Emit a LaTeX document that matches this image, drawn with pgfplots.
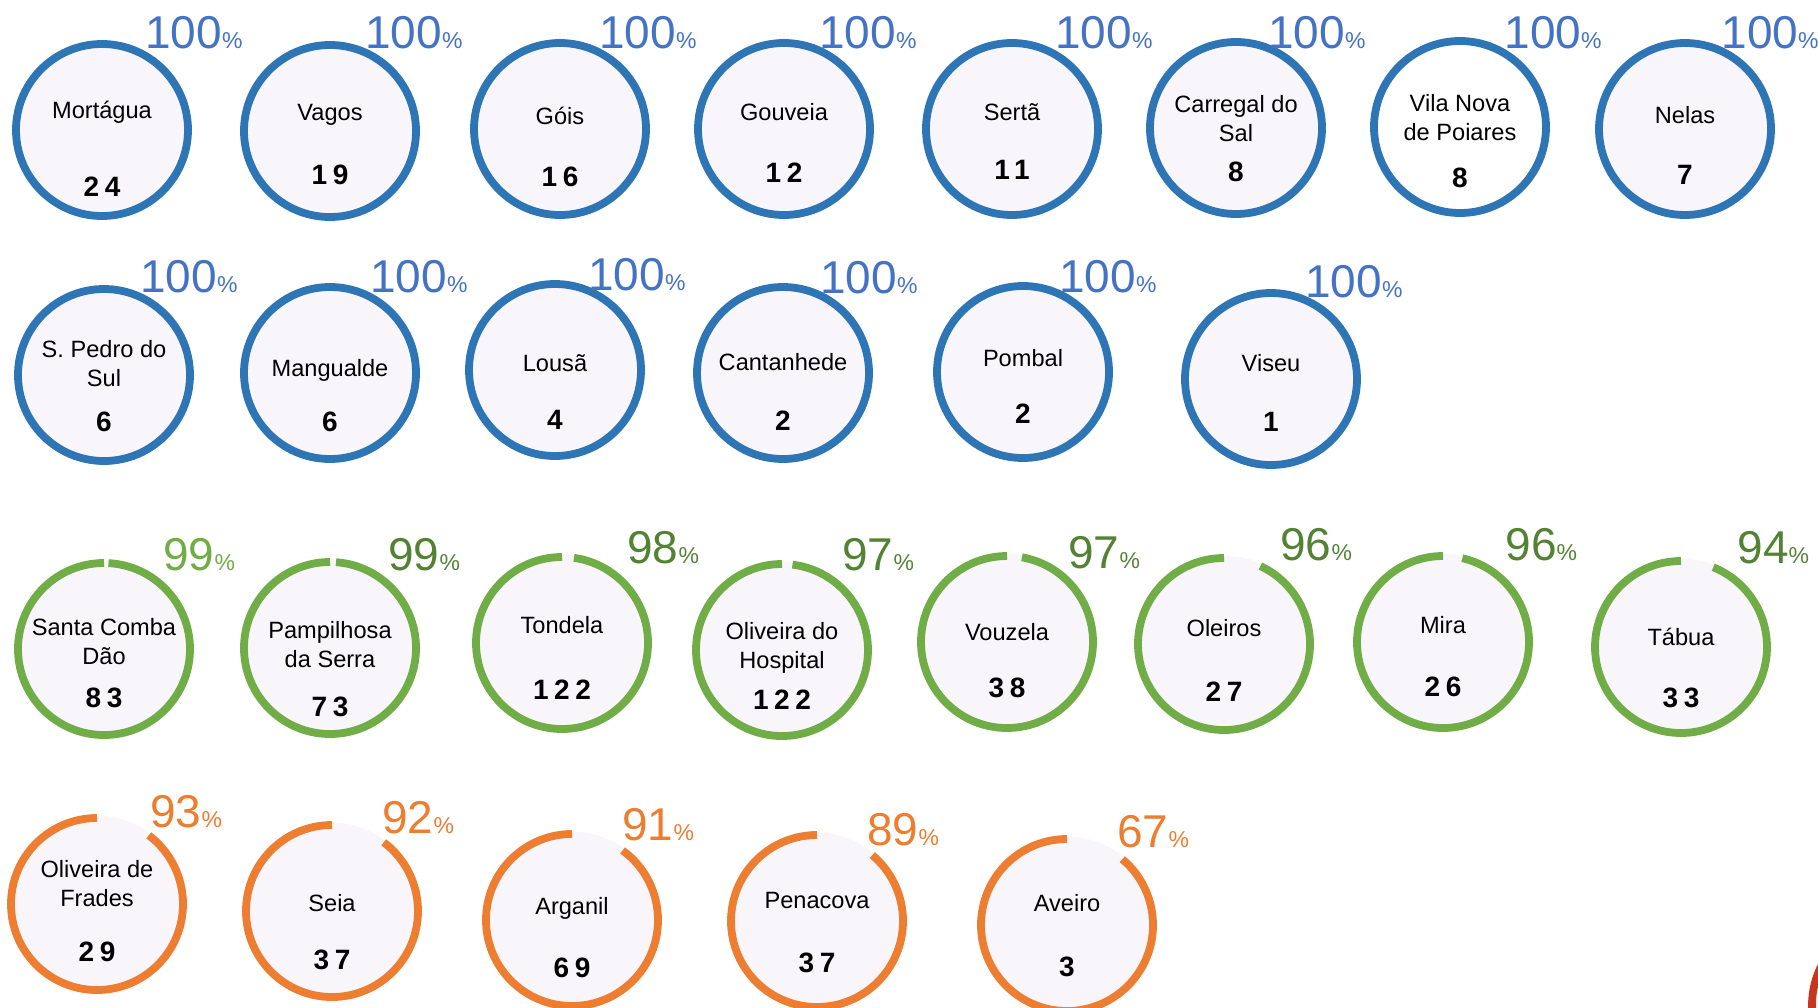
\documentclass[border=0pt]{standalone}
\usepackage{fontspec}
\setmainfont{Liberation Sans}
\newfontfamily\cntfamily[LetterSpace=20]{Liberation Sans}
\usepackage{pgfplots}
\usepackage{pgfplotstable}
\pgfplotsset{compat=1.18}

% ring colours (g), percent text colours (t), fill colours (w)
\definecolor{ring0}{HTML}{2E75B6}
\definecolor{ring1}{HTML}{70AD47}
\definecolor{ring2}{HTML}{ED7D31}
\definecolor{ring3}{HTML}{C9361F}
\definecolor{pct0}{HTML}{4472C4}
\definecolor{pct1}{HTML}{70AD47}
\definecolor{pct2}{HTML}{548235}
\definecolor{pct3}{HTML}{ED7D31}
\definecolor{fill0}{HTML}{F8F6FA}
\definecolor{fill1}{HTML}{FFFFFF}

\newcommand\namefont{\fontsize{11.8}{14.5}\selectfont}
\newcommand\cntfont{\cntfamily\bfseries\fontsize{14}{14}\selectfont}
\newcommand\pctfont{\fontsize{23}{23}\selectfont}
\newcommand\pcsfont{\fontsize{11.5}{11.5}\selectfont}

% positions in pixels of the 1818x1007 picture, y downwards
% gap = open part of the ring at the top, in degrees
% ox = horizontal shift of the ring from its point, in pixels
\pgfplotstableread[col sep=comma]{
X,Y,gap,nm,ny,cnt,ky,pct,px,py,g,t,w,ox
102,130,0,Mortágua,112,24,187,100,145,48,0,0,0,0
330,131,0,Vagos,115,19,175,100,365,48,0,0,0,0
560,129,0,Góis,116,16,177,100,599,48,0,0,0,0
784,129,0,Gouveia,112,12,173,100,819,48,0,0,0,0
1012,129,0,Sertã,112,11,170,100,1055,48,0,0,0,0
1236,128,0,{Carregal do\\Sal},119,8,172,100,1268,48,0,0,0,0
1460,127,0,{Vila Nova\\de Poiares},118,8,178,100,1504,48,0,0,1,0
1685,129,0,Nelas,115,7,175,100,1721,48,0,0,0,0
104,375,0,{S. Pedro do\\Sul},364,6,422,100,140,292,0,0,0,0
330,373,0,Mangualde,370,6,422,100,370,292,0,0,0,0
555,370,0,Lousã,363,4,420,100,588,290,0,0,0,0
783,373,0,Cantanhede,362,2,421,100,820,293,0,0,0,0
1023,372,0,Pombal,358,2,414,100,1059,292,0,0,0,0
1271,379,0,Viseu,363,1,422,100,1305,297,0,0,0,0
104,649,3,{Santa Comba\\Dão},642,83,698,99,163,570,1,1,0,0
330,648,4,{Pampilhosa\\da Serra},645,73,707,99,388,570,1,2,0,0
562,643,8,Tondela,625,122,690,98,627,563,1,2,0,0
782,650,7,{Oliveira do\\Hospital},648,122,700,97,842,570,1,2,0,0
1007,642,10,Vouzela,632,38,688,97,1068,568,1,2,0,0
1224,644,25,Oleiros,628,27,692,96,1280,560,1,2,0,0
1443,642,13,Mira,625,26,687,96,1505,560,1,2,0,0
1681,647,22,Tábua,637,33,698,94,1737,563,1,2,0,0
97,904,37,{Oliveira de\\Frades},884,29,952,93,150,827,2,3,0,0
332,911,37,Seia,903,37,960,92,382,833,2,3,0,0
572,920,36,Arganil,908,69,968,91,622,840,2,3,0,0
817,921,40,Penacova,900,37,963,89,867,845,2,3,0,0
1067,925,40,Aveiro,903,3,967,67,1117,847,2,3,0,0
}\rings

% ring of the next group, cut by the right edge (centre at x=1898)
\pgfplotstableread[col sep=comma]{
X,Y,gap,g,w,ox
1816,1005,40,3,0,82
}\cutring

\begin{document}
\begin{tikzpicture}
\begin{axis}[
  width=909pt, height=503.5pt, scale only axis,
  xmin=0, xmax=1818, ymin=0, ymax=1007, y dir=reverse,
  ticks=none, axis line style={draw=none},
  clip=true,
  ring/.style={
    scatter, only marks, mark=*, mark size=0pt,
    mark options={draw=none, fill=none},
    visualization depends on={\thisrow{gap}\as\gap},
    visualization depends on={\thisrow{g}\as\grp},
    visualization depends on={\thisrow{w}\as\wf},
    visualization depends on={\thisrow{ox}\as\shiftpx},
    scatter/@pre marker code/.code={%
      \pgfmathtruncatemacro\gi{\grp}%
      \pgfmathtruncatemacro\wi{\wf}%
      \pgfmathsetmacro\oxp{0.5*\shiftpx}%
      \fill[fill\wi] (\oxp pt,0pt) circle[radius=44pt];
      \draw[ring\gi, line width=3.9pt] (\oxp pt,43pt) arc[start angle=90, end angle=450-\gap, radius=43pt];
    },
    scatter/@post marker code/.code={},
  },
]
% rings
\addplot[ring] table[x=X, y=Y]{\rings};
\addplot[ring] table[x=X, y=Y]{\cutring};

% names
\addplot[draw=none, mark=none, nodes near coords, point meta=explicit symbolic,
  every node near coord/.style={anchor=center, align=center, font=\namefont, inner sep=0pt}]
  table[x=X, y=ny, meta=nm]{\rings};

% counts
\addplot[draw=none, mark=none, nodes near coords={\cntfont\pgfplotspointmeta}, point meta=explicit symbolic,
  every node near coord/.style={anchor=center, inner sep=0pt}]
  table[x=X, y=ky, meta=cnt]{\rings};

% percentages
\addplot[draw=none, mark=none,
  visualization depends on={\thisrow{t}\as\tnum},
  nodes near coords={\pgfmathtruncatemacro\ti{\tnum}\color{pct\ti}{\pctfont\pgfplotspointmeta}{\pcsfont\%}},
  point meta=explicit symbolic,
  every node near coord/.style={anchor=base west, inner sep=0pt}]
  table[x=px, y=py, meta=pct]{\rings};
\end{axis}
\pgfresetboundingbox
\path[use as bounding box] (current axis.south west) rectangle (current axis.north east);
\end{tikzpicture}
\end{document}
